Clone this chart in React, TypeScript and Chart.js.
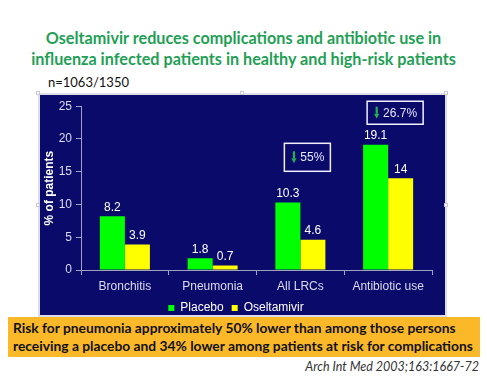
import React, { useEffect, useRef } from "react";
import { Chart, registerables } from "chart.js";

Chart.register(...registerables);

const categories = ["Bronchitis", "Pneumonia", "All LRCs", "Antibiotic use"];
const placebo = [8.2, 1.8, 10.3, 19.1];
const oseltamivir = [3.9, 0.7, 4.6, 14];
const yTicks = [0, 5, 10, 15, 20, 25];
const reductionLabels = ["", "", "55%", "26.7%"];
const reductionLevels: (number | null)[] = [null, null, 17.2, 24.0];

const FONT = "'Liberation Sans', Arial, sans-serif";
const AXIS_COLOR = "#a0a0c0";
const TICK_COLOR = "#dcdcee";

const valueLabelPlugin = {
  id: "valueLabels",
  afterDatasetsDraw(chart: any) {
    const ctx = chart.ctx;
    ctx.save();
    ctx.fillStyle = "#ffffff";
    ctx.font = `12px ${FONT}`;
    ctx.textAlign = "center";
    ctx.textBaseline = "bottom";
    chart.data.datasets.forEach((ds: any, di: number) => {
      const meta = chart.getDatasetMeta(di);
      meta.data.forEach((el: any, i: number) => {
        ctx.fillText(String(ds.data[i]), el.x, el.y - 3);
      });
    });
    ctx.restore();
  },
};

const reductionPlugin = {
  id: "reductionBoxes",
  afterDraw(chart: any) {
    const ctx = chart.ctx;
    const xs = chart.scales.x;
    const ys = chart.scales.y;
    ctx.save();
    ctx.font = `12px ${FONT}`;
    reductionLabels.forEach((txt, i) => {
      const lvl = reductionLevels[i];
      if (!txt || lvl == null) return;
      const tw = ctx.measureText(txt).width;
      const h = i === 2 ? 28 : 23;
      const padL = 7;
      const w = padL + 5 + 4 + tw + 6;
      const cx = xs.getPixelForValue(i) + 7;
      const cy = ys.getPixelForValue(lvl);
      const left = cx - w / 2;
      ctx.strokeStyle = "#f0f0ff";
      ctx.lineWidth = 1.5;
      ctx.strokeRect(left, cy - h / 2, w, h);
      const ax = left + padL;
      ctx.fillStyle = "#22b14c";
      ctx.fillRect(ax + 1.5, cy - 6, 2.2, 7);
      ctx.beginPath();
      ctx.moveTo(ax, cy + 1);
      ctx.lineTo(ax + 5.2, cy + 1);
      ctx.lineTo(ax + 2.6, cy + 6);
      ctx.closePath();
      ctx.fill();
      ctx.fillStyle = "#e6e6ff";
      ctx.textAlign = "left";
      ctx.textBaseline = "middle";
      ctx.fillText(txt, ax + 9, cy + 0.5);
    });
    ctx.restore();
  },
};

function BarChart() {
  const ref = useRef<HTMLCanvasElement>(null);
  useEffect(() => {
    if (!ref.current) return;
    const chart = new Chart(ref.current, {
      type: "bar",
      data: {
        labels: categories,
        datasets: [
          {
            label: "Placebo",
            data: placebo,
            backgroundColor: "#00ff00",
            categoryPercentage: 0.57,
            barPercentage: 1.0,
          },
          {
            label: "Oseltamivir",
            data: oseltamivir,
            backgroundColor: "#ffff00",
            categoryPercentage: 0.57,
            barPercentage: 1.0,
          },
        ],
      },
      options: {
        animation: false,
        responsive: false,
        maintainAspectRatio: false,
        layout: { padding: { top: 11, right: 14, left: 0, bottom: 0 } },
        plugins: {
          legend: {
            position: "bottom",
            labels: {
              color: "#ffffff",
              boxWidth: 6,
              boxHeight: 6,
              padding: 8,
              font: { size: 12, family: FONT },
            },
          },
          tooltip: { enabled: false },
        },
        scales: {
          x: {
            grid: {
              display: true,
              drawOnChartArea: false,
              color: AXIS_COLOR,
              tickLength: 5,
              offset: true,
            },
            border: { color: AXIS_COLOR },
            ticks: { color: TICK_COLOR, font: { size: 12, family: FONT }, padding: 4 },
            afterFit: (s: any) => {
              s.height = 24;
            },
          },
          y: {
            min: 0,
            max: 25,
            afterBuildTicks: (s: any) => {
              s.ticks = yTicks.map((v) => ({ value: v }));
            },
            ticks: { color: TICK_COLOR, font: { size: 12, family: FONT }, padding: 4 },
            grid: { drawOnChartArea: false, tickLength: 5, color: AXIS_COLOR },
            border: { color: AXIS_COLOR },
            title: {
              display: true,
              text: "% of patients",
              color: "#ffffff",
              font: { size: 12, weight: "bold", family: FONT },
              padding: 2,
            },
            afterFit: (s: any) => {
              s.width = 41;
            },
          },
        },
      } as any,
      plugins: [valueLabelPlugin, reductionPlugin],
    });
    return () => chart.destroy();
  }, []);
  return <canvas ref={ref} width={406} height={229} style={{ display: "block" }} />;
}

const handle = (x: number, y: number) => (
  <div
    key={`${x}-${y}`}
    style={{ position: "absolute", left: x, top: y, width: 4, height: 4, background: "#ffffff", border: "1px solid #c8c8d8", boxSizing: "border-box" }}
  />
);

export default function App() {
  return (
    <div style={{ position: "absolute", left: 0, top: 0, width: 487, height: 376, background: "#ffffff", overflow: "hidden" }}>
      <div
        style={{
          position: "absolute",
          left: 0,
          top: 27,
          width: 487,
          textAlign: "center",
          whiteSpace: "nowrap",
          fontFamily: "Lato, 'Open Sans', sans-serif",
          fontWeight: 700,
          fontSize: 16.2,
          lineHeight: "21px",
          color: "#1fa055",
        }}
      >
        Oseltamivir reduces complications and antibiotic use in
        <br />
        influenza infected patients in healthy and high-risk patients
      </div>
      <div style={{ position: "absolute", left: 48, top: 74, fontFamily: "Lato, sans-serif", fontSize: 13, lineHeight: "16px", color: "#111" }}>
        n=1063/1350
      </div>
      <div
        style={{
          position: "absolute",
          left: 38,
          top: 93,
          width: 409,
          height: 224,
          background: "#0a0a6b",
          border: "2px solid #dcdcec",
          boxSizing: "border-box",
        }}
      />
      <div style={{ position: "absolute", left: 40, top: 95 }}>
        <BarChart />
      </div>
      {handle(36, 91)}
      {handle(240, 91)}
      {handle(444, 91)}
      {handle(36, 203)}
      {handle(444, 203)}
      <div
        style={{
          position: "absolute",
          left: 8,
          top: 317,
          width: 472,
          height: 40,
          background: "#fbb829",
          boxSizing: "border-box",
          padding: "2px 0 0 5px",
          whiteSpace: "nowrap",
          fontFamily: "Lato, sans-serif",
          fontWeight: 700,
          fontSize: 13.8,
          lineHeight: "18px",
          color: "#111",
        }}
      >
        Risk for pneumonia approximately 50% lower than among those persons
        <br />
        receiving a placebo and 34% lower among patients at risk for complications
      </div>
      <div
        style={{
          position: "absolute",
          right: 8,
          top: 360,
          fontFamily: "Lato, sans-serif",
          fontStyle: "italic",
          fontSize: 12.5,
          lineHeight: "14px",
          color: "#333",
        }}
      >
        Arch Int Med 2003;163:1667-72
      </div>
    </div>
  );
}
